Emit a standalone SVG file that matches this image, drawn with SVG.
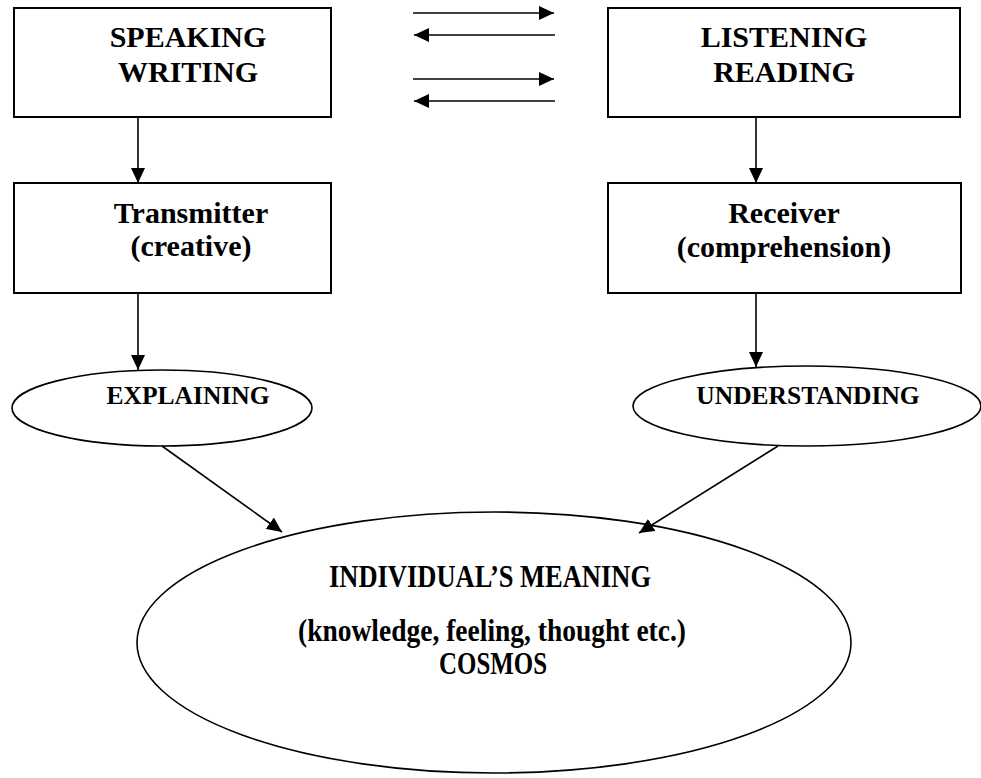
<svg xmlns="http://www.w3.org/2000/svg" width="981" height="778" viewBox="0 0 981 778">
  <style>
    .box { fill: #ffffff; stroke: #000000; stroke-width: 2; }
    .oval { fill: #ffffff; stroke: #000000; stroke-width: 1.6; }
    .link { fill: none; stroke: #000000; stroke-width: 1.6; marker-end: url(#head); }
    text { font-family: "Liberation Serif", "Times New Roman", serif; font-weight: bold; fill: #000000; text-anchor: middle; }
    .big { font-size: 30px; }
    .core { font-size: 31px; }
    .small { font-size: 25.5px; }
  </style>
  <defs>
    <marker id="head" markerUnits="userSpaceOnUse" markerWidth="15" markerHeight="14" refX="15" refY="7" orient="auto">
      <path d="M0,0 L15,7 L0,14 Z" fill="#000000"/>
    </marker>
  </defs>

  <g id="speaking-writing">
    <rect class="box" x="14" y="8" width="317" height="109"/>
    <text class="big" x="188" y="47">SPEAKING</text>
    <text class="big" x="188" y="82">WRITING</text>
  </g>

  <g id="listening-reading">
    <rect class="box" x="608" y="8" width="352" height="109"/>
    <text class="big" x="784" y="47">LISTENING</text>
    <text class="big" x="784" y="82">READING</text>
  </g>

  <g id="transmitter">
    <rect class="box" x="14" y="183" width="317" height="110"/>
    <text class="big" x="191" y="223">Transmitter</text>
    <text class="big" x="191" y="256">(creative)</text>
  </g>

  <g id="receiver">
    <rect class="box" x="608" y="183" width="353" height="110"/>
    <text class="big" x="784" y="223">Receiver</text>
    <text class="big" x="784" y="257">(comprehension)</text>
  </g>

  <g id="explaining">
    <ellipse class="oval" cx="162" cy="408" rx="150" ry="38"/>
    <text class="small" x="188" y="404">EXPLAINING</text>
  </g>

  <g id="understanding">
    <ellipse class="oval" cx="807" cy="406" rx="174" ry="40"/>
    <text class="small" x="808" y="404">UNDERSTANDING</text>
  </g>

  <g id="meaning">
    <ellipse class="oval" cx="494" cy="642.5" rx="357" ry="130.5"/>
    <text class="core" x="490" y="587" textLength="322" lengthAdjust="spacingAndGlyphs">INDIVIDUAL’S MEANING</text>
    <text class="core" x="492" y="641" textLength="388" lengthAdjust="spacingAndGlyphs">(knowledge, feeling, thought etc.)</text>
    <text class="core" x="493" y="674" textLength="108" lengthAdjust="spacingAndGlyphs">COSMOS</text>
  </g>

  <!-- connectors, drawn last so heads stay visible over the ovals -->
  <g id="connectors">
    <line class="link" x1="413" y1="13" x2="554" y2="13"/>
    <line class="link" x1="555" y1="35" x2="414" y2="35"/>
    <line class="link" x1="413" y1="79" x2="554" y2="79"/>
    <line class="link" x1="555" y1="101" x2="414" y2="101"/>
    <line class="link" x1="138" y1="117" x2="138" y2="183"/>
    <line class="link" x1="756" y1="117" x2="756" y2="183"/>
    <line class="link" x1="138" y1="293" x2="138" y2="370"/>
    <line class="link" x1="756" y1="293" x2="756" y2="367"/>
    <line class="link" x1="162" y1="446" x2="282" y2="532"/>
    <line class="link" x1="778" y1="446" x2="639" y2="533"/>
  </g>
</svg>
